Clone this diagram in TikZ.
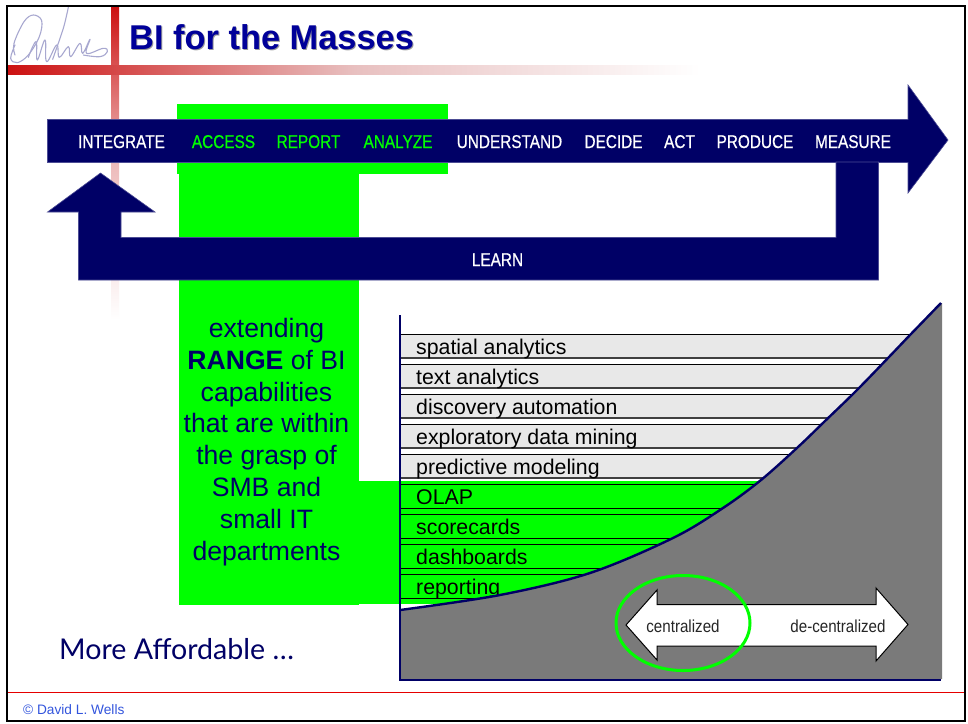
\documentclass[tikz,border=0pt]{standalone}
\usepackage{fontspec}
\setmainfont{Liberation Sans}
\newfontfamily\narrowfont[FakeStretch=0.83,FakeBold=0.6]{Liberation Sans}
\newfontfamily\smallnarrow[FakeStretch=0.87]{Liberation Sans}
\newfontfamily\handfont{Lato}
\definecolor{navy}{HTML}{000066}
\definecolor{limeg}{HTML}{00FF00}
\definecolor{redbar}{HTML}{CC1111}
\definecolor{paleA}{HTML}{EDBBBB}
\definecolor{paleB}{HTML}{E8C0C0}
\definecolor{barfill}{HTML}{E8E8E8}
\definecolor{hill}{HTML}{7A7A7A}
\definecolor{titleblue}{HTML}{000099}
\definecolor{footblue}{HTML}{3355DD}
\definecolor{sigcol}{HTML}{A8A8D0}
\tikzset{
  band/.style={fill=navy,draw=navy!70!white,line width=.6pt},
  steplabel/.style={anchor=base,inner sep=0pt,font=\narrowfont\fontsize{18.5}{20}\selectfont,text=white},
  greenlabel/.style={steplabel,text=limeg},
  barlabel/.style={anchor=base west,inner sep=0pt,font=\fontsize{21.3}{24}\selectfont,text=black},
  barrow/.style={draw=black,line width=.9pt},
  sig/.style={draw=sigcol,line width=1.1pt,line cap=round,line join=round},
  widearrowtext/.style={anchor=base,inner sep=0pt,font=\smallnarrow\fontsize{17.4}{20}\selectfont,text=black!85},
  hillcurve/.style={smooth,tension=.55}
}
\def\hillpts{(400,610)(500,595)(590,573)(673,538)(723,508)(761,480)(798,447)(825,421)(856,391)(888,358)(910,335)(941,303)}
\begin{document}
\begin{tikzpicture}[x=1pt,y=-1pt]
\useasboundingbox (0,0) rectangle (968,723);
\fill[white] (0,0) rectangle (968,723);
% gradient bars
\shade[top color=redbar,bottom color=white,middle color=paleA,shading angle=0] (111,6) rectangle (119,320);
\shade[left color=redbar,right color=white,middle color=paleB] (8,65) rectangle (700,74);
% green highlight
\fill[limeg] (177,104) rectangle (448,174);
\fill[limeg] (179,174) rectangle (359,605);
\fill[limeg] (359,481) rectangle (800,604);
% rows
\foreach \n/\t/\ytop in {a/spatial analytics/334,b/text analytics/364,c/discovery automation/394,d/exploratory data mining/424,e/predictive modeling/454}{
  \fill[barfill] (400,\ytop) rectangle (935,\ytop+24);
  \draw[barrow] (400,\ytop) -- (935,\ytop);
  \draw[barrow,line width=1.2pt,draw=black!75] (400,\ytop+24) -- (935,\ytop+24);
  \node[barlabel] (row\n) at (416,\ytop+20.5) {\t};
}
\foreach \n/\t/\ytop in {f/OLAP/484,g/scorecards/514,h/dashboards/544,i/reporting/574}{
  \draw[barrow] (400,\ytop) -- (800,\ytop);
  \draw[barrow] (400,\ytop+24) -- (800,\ytop+24);
  \node[barlabel] (row\n) at (416,\ytop+20.5) {\t};
}
% hill
\fill[hill] plot[hillcurve] coordinates {\hillpts} -- (942,303) -- (942,679) -- (400,679) -- cycle;
\draw[navy,line width=2.4pt] plot[hillcurve] coordinates {\hillpts};
\draw[navy,line width=2pt] (399.5,315) -- (399.5,679.5) -- (941,679.5);
% main arrow
\draw[band] (47.5,119.5) -- (908,119.5) -- (908,85) -- (948,140) -- (908,193) -- (908,162.5) -- (47.5,162.5) -- cycle;
% return arrow
\draw[band] (836,162) -- (878.5,162) -- (878.5,280) -- (78.5,280) -- (78.5,212) -- (47.5,212) -- (100.5,173) -- (155,212) -- (121,212) -- (121,237.5) -- (836,237.5) -- cycle;
% step labels
\node[steplabel] (integrate) at (121.5,148) {INTEGRATE};
\node[greenlabel] (access) at (223.5,148) {ACCESS};
\node[greenlabel] (report) at (308.5,148) {REPORT};
\node[greenlabel] (analyze) at (398,148) {ANALYZE};
\node[steplabel] (understand) at (509.5,148) {UNDERSTAND};
\node[steplabel] (decide) at (613.5,148) {DECIDE};
\node[steplabel] (act) at (679.5,148) {ACT};
\node[steplabel] (produce) at (755,148) {PRODUCE};
\node[steplabel] (measure) at (853,148) {MEASURE};
\node[steplabel] (learn) at (497.5,266) {LEARN};
% block text
\node[align=center,inner sep=0pt,text=navy,font=\fontsize{26.6}{31.9}\selectfont] (rangetext) at (266.5,442)
  {extending\\\textbf{RANGE} of BI\\capabilities\\that are within\\the grasp of\\SMB and\\small IT\\departments};
% double arrow
\draw[fill=white,draw=black,line width=1pt,line join=miter] (626,625) -- (657,590) -- (657,604.5) -- (876,604.5) -- (876,588) -- (908,624.5) -- (876,661) -- (876,646) -- (657,646) -- (657,660) -- cycle;
\node[widearrowtext] (central) at (683,632) {centralized};
\node[widearrowtext] (decentral) at (838,632) {de-centralized};
\draw[limeg,line width=3pt] (683,623) ellipse [x radius=67,y radius=47.5];
% More affordable
\node[anchor=base west,inner sep=0pt,text=navy,font=\handfont\fontsize{28.6}{30}\selectfont] (afford) at (59,659) {More Affordable \dots};
% title
\node[anchor=base west,inner sep=0pt,text=black!40,font=\bfseries\fontsize{34.4}{38}\selectfont] (titleshadow) at (130,50.5) {BI for the Masses};
\node[anchor=base west,inner sep=0pt,text=titleblue,font=\bfseries\fontsize{34.4}{38}\selectfont] (title) at (129,49.5) {BI for the Masses};
% footer
\draw[red!90!black,line width=.9pt] (8,692) -- (964,692);
\node[anchor=base west,inner sep=0pt,text=footblue,font=\fontsize{13.7}{16}\selectfont] (foot) at (23,714) {© David L. Wells};
% signature
\begin{scope}[x=.3333pt,y=-.3333pt]
\draw[sig] plot[smooth,tension=.6] coordinates {(45,165)(42,130)(72,65)(100,45)(125,62)(118,110)(85,165)(52,188)(32,175)(45,135)};
\draw[sig] plot[smooth,tension=.5] coordinates {(205,22)(190,85)(158,178)};
\draw[sig] plot[smooth,tension=.7] coordinates {(85,172)(108,125)(112,180)(135,120)(140,185)(170,135)(178,172)(205,140)(212,170)(240,130)(248,160)(270,118)(260,160)(310,145)(322,155)(300,170)(250,165)};
\end{scope}
% frame
\draw[black,line width=2pt] (7,5.5) rectangle (964.5,720.5);
\end{tikzpicture}
\end{document}
